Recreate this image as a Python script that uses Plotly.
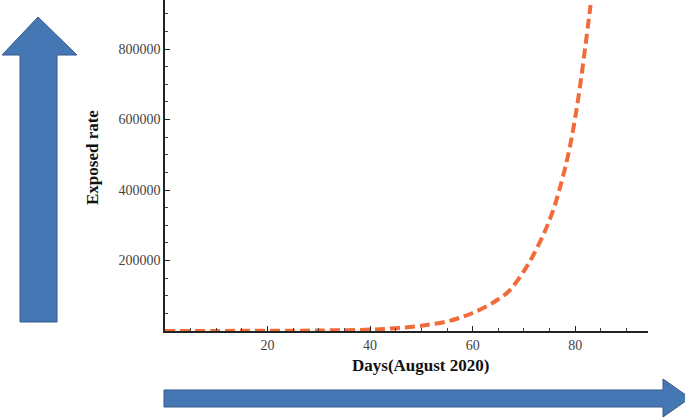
import plotly.graph_objects as go

# Data
days = [0, 10, 20, 30, 40, 45, 50, 55, 58, 60, 63, 65, 67, 70, 72, 74, 75, 76, 77, 78, 79, 80, 81, 82, 83]
exposed = [200, 300, 600, 1500, 4000, 8000, 15000, 27000, 40000, 51000, 72000, 90000, 112000, 170000,
           220000, 280000, 315000, 355000, 405000, 460000, 525000, 605000, 700000, 810000, 925000]
x_ticks = [20, 40, 60, 80]
y_ticks = [200000, 400000, 600000, 800000]

W, H = 685, 418
L, R, T, B = 165, 37, 0, 87
PW, PH = W - L - R, H - T - B

def px(x):
    return (x - L) / PW

def py(y):
    return (H - B - y) / PH

fig = go.Figure()
fig.add_trace(go.Scatter(x=days, y=exposed, mode="lines",
                         line=dict(color="#F26B3A", width=4, dash="10px,5px", shape="spline"),
                         showlegend=False, hoverinfo="skip"))

tickfont = dict(family="Liberation Serif", size=14, color="#444444")
fig.update_xaxes(range=[0, 94.2], showline=True, linecolor="#222222", linewidth=1.5,
                 showgrid=False, zeroline=False, ticks="inside", ticklen=5, tickwidth=1,
                 tickcolor="#222222", tickvals=x_ticks, tickfont=tickfont,
                 minor=dict(dtick=5, ticks="inside", ticklen=3, tickcolor="#444444", showgrid=False))
fig.update_yaxes(range=[0, 939000], showline=True, linecolor="#222222", linewidth=1.5,
                 showgrid=False, zeroline=False, ticks="inside", ticklen=5, tickwidth=1,
                 tickcolor="#222222", tickvals=y_ticks, ticktext=[str(v) for v in y_ticks],
                 tickfont=tickfont,
                 minor=dict(dtick=50000, ticks="inside", ticklen=3, tickcolor="#444444", showgrid=False))

# Decorative arrows (paper coordinates computed from pixel positions)
fill = "#4677B5"
edge = "#35598A"
up = [(20, 322), (57, 322), (57, 55), (77, 55), (38, 17), (2, 55), (20, 55)]
path_up = "M " + " L ".join(f"{px(a):.4f},{py(b):.4f}" for a, b in up) + " Z"
right = [(164, 390), (663, 390), (663, 379), (690, 398), (663, 417), (663, 407), (164, 407)]
path_right = "M " + " L ".join(f"{px(a):.4f},{py(b):.4f}" for a, b in right) + " Z"
for p in (path_up, path_right):
    fig.add_shape(type="path", path=p, xref="paper", yref="paper",
                  fillcolor=fill, line=dict(color=edge, width=1), layer="above")

titlefont = dict(family="Liberation Serif", size=17, color="#111111")
fig.add_annotation(text="<b>Exposed rate</b>", x=px(92), y=py(158), xref="paper", yref="paper",
                   xanchor="center", yanchor="middle",
                   textangle=-90, showarrow=False, font=titlefont)
fig.add_annotation(text="<b>Days(August 2020)</b>", x=px(420), y=py(366), xref="paper", yref="paper",
                   xanchor="center", yanchor="middle",
                   showarrow=False, font=titlefont)

fig.update_layout(width=W, height=H, margin=dict(l=L, r=R, t=T, b=B),
                  plot_bgcolor="white", paper_bgcolor="white")
fig.write_html("out.html", config={"displayModeBar": False},
               post_script="document.body.style.margin='0';document.body.style.overflow='hidden';")
